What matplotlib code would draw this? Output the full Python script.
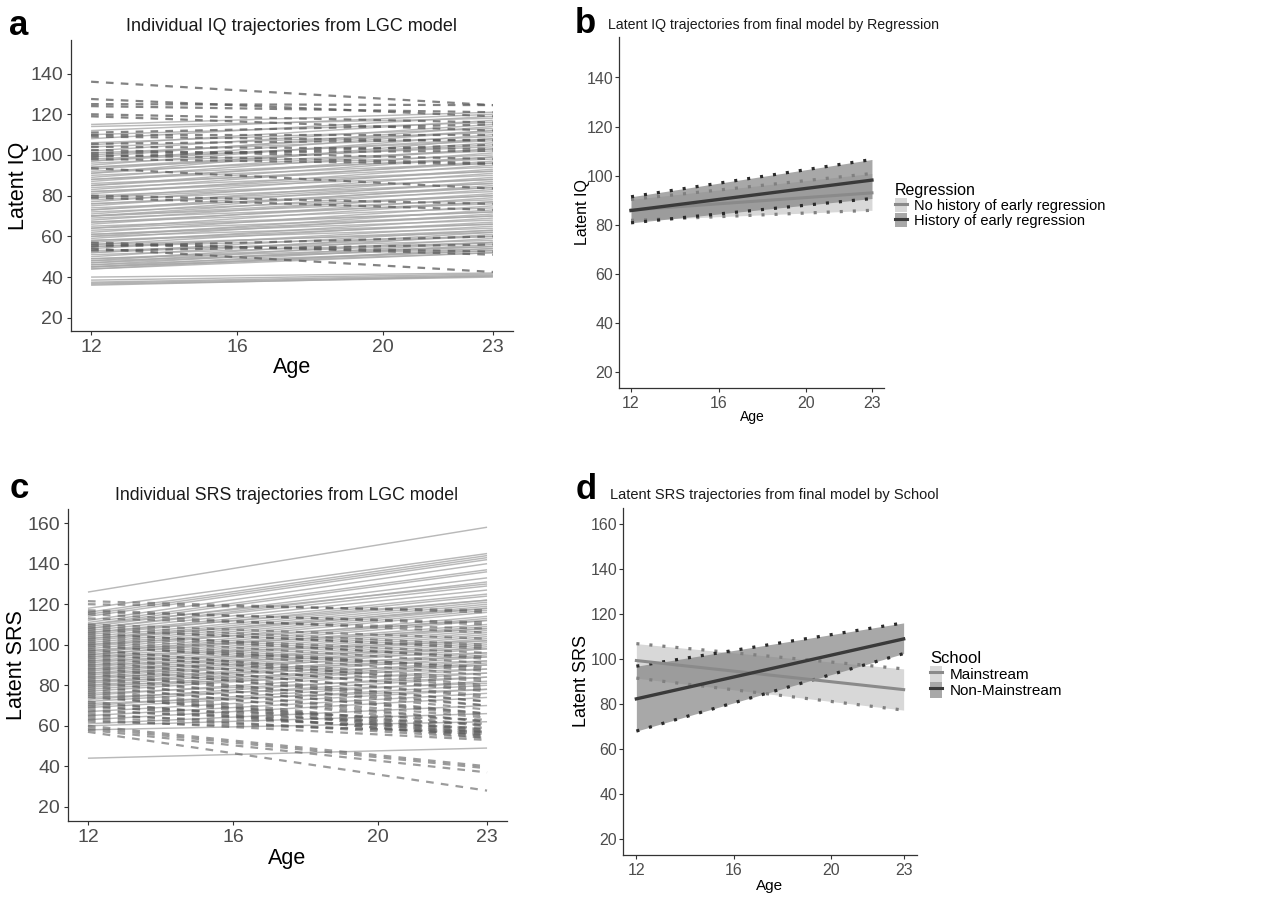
import matplotlib
matplotlib.use('Agg')
import matplotlib.pyplot as plt
from matplotlib.patches import Patch
from matplotlib.lines import Line2D

plt.rcParams['font.family'] = ['Liberation Sans', 'DejaVu Sans']
plt.rcParams['lines.scale_dashes'] = False

W, H = 1283, 897
ages = [12, 23]
age_ticks = [12, 16, 20, 23]

# panel a: individual IQ trajectories (value at 12, value at 23)
iq_solid_start = [115, 114, 112, 110, 108, 106, 105, 104, 102, 101, 100, 99, 98, 97, 97, 96, 95, 94,
                  94, 93, 92, 91, 91, 90, 89, 88, 88, 87, 86, 85, 85, 84, 83, 82, 82, 81, 80, 79,
                  79, 78, 77, 76, 76, 75, 74, 73, 73, 72, 71, 70, 70, 70, 69, 68, 67, 67, 66, 65,
                  64, 64, 63, 62, 61, 61, 60, 60, 59, 58, 58, 57, 56, 56, 55, 55, 54, 53, 52, 52,
                  51, 50, 49, 49, 48, 48, 47, 47, 46, 46, 45, 45, 45, 44, 44, 40, 38.5, 37.5, 37,
                  36.5, 36]
iq_solid_end = [121, 118, 120, 116, 119, 113, 117, 111, 115, 109, 112, 114, 107, 112, 108, 104, 110,
                102, 105, 106, 100, 108, 103, 98, 103, 96, 99, 101, 94, 99, 96, 92, 97, 90, 92, 95,
                88, 93, 88, 86, 91, 84, 86, 89, 82, 87, 84, 80, 85, 78, 83, 80, 76, 81, 74, 77, 79,
                72, 77, 72, 70, 75, 68, 70, 73, 66, 71, 64, 66, 69, 62, 67, 60, 63, 65, 58, 63, 60,
                57, 62, 55, 57, 61, 54, 59, 55, 53, 57, 52, 56, 53, 54, 52, 42, 41.5, 41, 40.5, 40,
                40.5]
iq_dash_start = [136, 127.5, 125, 124, 120, 119, 111, 110, 109, 105.5, 104, 102.5, 101, 100, 99, 98,
                 93.5, 80, 79, 57, 56, 55, 54, 53]
iq_dash_end = [124.5, 119, 124.5, 121, 116, 112, 115, 110, 107, 107.5, 103, 98, 102, 96, 105, 95.5,
               83.5, 76, 73, 51, 52.5, 60, 42.5, 56]

# panel b: latent IQ by regression history (mean, lower, upper)
noreg_mean = [86.0, 93.0]
noreg_lo = [81.8, 85.9]
noreg_hi = [90.3, 100.9]
reg_mean = [85.8, 98.2]
reg_lo = [80.8, 90.7]
reg_hi = [91.4, 106.6]
reg_labels = ['No history of early regression', 'History of early regression']

# panel c: individual SRS trajectories
srs_solid_start = [126, 118, 116, 115, 114, 112, 111, 110, 110, 109, 108, 108, 107, 106, 106, 105,
                   104, 103, 103, 102, 101, 100, 100, 99, 98, 97, 97, 96, 95, 95, 94, 94, 93, 92,
                   92, 91, 90, 90, 89, 88, 88, 87, 86, 86, 85, 84, 84, 83, 82, 82, 81, 80, 80, 79,
                   78, 77, 76, 75, 74, 73, 72, 71, 70, 69, 67, 65, 63, 61, 60, 58, 44]
srs_solid_end = [158, 145, 144, 143, 142, 140, 137, 136, 130, 133, 131, 129, 127, 125, 122, 124,
                 122, 121, 118, 120, 119, 118, 112, 117, 116, 114, 108, 113, 112, 110, 109, 102,
                 108, 107, 98, 106, 105, 96, 104, 103, 94, 102, 101, 92, 100, 99, 90, 98, 96, 88,
                 95, 94, 86, 92, 91, 90, 84, 88, 81, 86, 84, 78, 82, 80, 78, 76, 74, 70, 66, 62,
                 49]
srs_dash_start = [121.5, 120, 117, 116, 115, 113, 110, 109, 108, 107, 106, 105, 104, 103, 102, 101,
                  100, 99, 98, 97, 96, 95, 94, 93, 92, 91, 90, 89, 88, 87, 86, 85, 84, 83, 82, 81,
                  80, 79, 78, 77, 76, 75, 74, 72, 71, 70, 69, 68, 67, 66, 65, 64, 63, 62, 60, 59,
                  58, 57]
srs_dash_end = [116, 117, 110, 111, 106, 108, 103, 100, 98, 99, 93, 96, 94, 91, 88, 87, 85, 89, 80,
                83, 79, 82, 77, 78, 74, 75, 72, 70, 72, 68, 66, 70, 65, 66, 62, 64, 60, 62, 58, 57,
                56, 55, 60, 54, 58, 55, 63, 57, 61, 54, 59, 56, 53, 57, 40, 39, 37, 28]

# panel d: latent SRS by school
main_mean = [99.3, 86.4]
main_lo = [91.5, 77.3]
main_hi = [106.8, 95.6]
nonmain_mean = [82.3, 108.9]
nonmain_lo = [68.0, 102.4]
nonmain_hi = [96.8, 116.0]
school_labels = ['Mainstream', 'Non-Mainstream']

LIGHT_FILL, DARK_FILL, DARK_ALPHA = '#d8d8d8', '#818181', 0.69
LIGHT_LINE, DARK_LINE = '#8a8a8a', '#3a3a3a'
LIGHT_DOT, DARK_DOT = '#808080', '#2a2a2a'


def fx(px):
    return px / W


def fy(py):
    return 1 - py / H


fig = plt.figure(figsize=(W / 100, H / 100), dpi=100)


def axes_px(l, t, r, b):
    return fig.add_axes([fx(l), fy(b), (r - l) / W, (b - t) / H])


def style(ax, ylim, yticks, size, xpad, ypad):
    ax.set_xlim(11.45, 23.55)
    ax.set_ylim(*ylim)
    ax.set_xticks(age_ticks)
    ax.set_yticks(yticks)
    for s in ['top', 'right']:
        ax.spines[s].set_visible(False)
    for s in ['left', 'bottom']:
        ax.spines[s].set_color('#333333')
        ax.spines[s].set_linewidth(0.9)
    ax.tick_params(colors='#333333', length=2.6, width=0.8, labelcolor='#4d4d4d',
                   labelsize=size)
    ax.tick_params(axis='x', pad=xpad)
    ax.tick_params(axis='y', pad=ypad)


def spaghetti(ax, s_start, s_end, d_start, d_end, d_alpha):
    for a, b in zip(s_start, s_end):
        ax.plot(ages, [a, b], color='#a8a8a8', lw=1.05, alpha=0.8, solid_capstyle='butt')
    for a, b in zip(d_start, d_end):
        ax.plot(ages, [a, b], color='#5a5a5a', lw=1.6, alpha=d_alpha,
                linestyle=(0, (5.5, 5.2)), dash_capstyle='butt')


def ribbon(ax, lo, hi, fill, alpha, dot):
    ax.fill_between(ages, lo, hi, color=fill, alpha=alpha, lw=0)
    for edge in (lo, hi):
        ax.plot(ages, edge, color=dot, lw=2.3, linestyle=(0, (2.2, 7.2)), dash_capstyle='butt')


def legend(ax, labels, title, x, y, hh, size, tsize):
    handles = [(Patch(facecolor=LIGHT_FILL, edgecolor='none'), Line2D([], [], color=LIGHT_LINE, lw=2.2)),
               (Patch(facecolor=DARK_FILL, alpha=DARK_ALPHA, edgecolor='none'),
                Line2D([], [], color=DARK_LINE, lw=2.2))]
    ax.legend(handles, labels, title=title, loc='upper left', bbox_to_anchor=(fx(x), fy(y)),
              bbox_transform=fig.transFigure, frameon=False, borderpad=0, borderaxespad=0,
              labelspacing=0, handlelength=0.8, handleheight=hh, handletextpad=0.5,
              alignment='left', prop={'size': size}, title_fontproperties={'size': tsize})


# ---- a
ax_a = axes_px(71, 40, 513, 331)
spaghetti(ax_a, iq_solid_start, iq_solid_end, iq_dash_start, iq_dash_end, 0.75)
style(ax_a, (13.5, 156.5), range(20, 141, 20), 14, 3.5, 3)
fig.text(fx(292), fy(31), 'Individual IQ trajectories from LGC model', ha='center', va='baseline',
         fontsize=13, color='#1a1a1a')
fig.text(fx(19), fy(186), 'Latent IQ', rotation=90, ha='center', va='center', fontsize=15.5)
fig.text(fx(292), fy(368), 'Age', ha='center', va='center', fontsize=15.5)
fig.text(fx(9), fy(35), 'a', fontsize=25, fontweight='bold', va='baseline')

# ---- b
ax_b = axes_px(619, 37, 884, 388)
ribbon(ax_b, noreg_lo, noreg_hi, LIGHT_FILL, 1.0, LIGHT_DOT)
ribbon(ax_b, reg_lo, reg_hi, DARK_FILL, DARK_ALPHA, DARK_DOT)
ax_b.plot(ages, noreg_mean, color=LIGHT_LINE, lw=2.2)
ax_b.plot(ages, reg_mean, color=DARK_LINE, lw=2.4)
style(ax_b, (13.5, 156.5), range(20, 141, 20), 11.5, 3, 1.5)
fig.text(fx(608), fy(29), 'Latent IQ trajectories from final model by Regression', ha='left',
         va='baseline', fontsize=10.2, color='#1a1a1a')
fig.text(fx(583), fy(212), 'Latent IQ', rotation=90, ha='center', va='center', fontsize=11.5)
fig.text(fx(752), fy(417), 'Age', ha='center', va='center', fontsize=10)
fig.text(fx(575), fy(33), 'b', fontsize=25, fontweight='bold', va='baseline')
legend(ax_b, reg_labels, 'Regression', 895, 183, 1.1, 10.5, 11.5)

# ---- c
ax_c = axes_px(68, 509, 507, 821)
spaghetti(ax_c, srs_solid_start, srs_solid_end, srs_dash_start, srs_dash_end, 0.6)
style(ax_c, (13, 167), range(20, 161, 20), 14, 3.5, 3)
fig.text(fx(287), fy(500), 'Individual SRS trajectories from LGC model', ha='center',
         va='baseline', fontsize=12.8, color='#1a1a1a')
fig.text(fx(17), fy(665), 'Latent SRS', rotation=90, ha='center', va='center', fontsize=15.5)
fig.text(fx(287), fy(858), 'Age', ha='center', va='center', fontsize=15.5)
fig.text(fx(10), fy(498), 'c', fontsize=25, fontweight='bold', va='baseline')

# ---- d
ax_d = axes_px(623, 508, 917, 855)
ribbon(ax_d, main_lo, main_hi, LIGHT_FILL, 1.0, LIGHT_DOT)
ribbon(ax_d, nonmain_lo, nonmain_hi, DARK_FILL, DARK_ALPHA, DARK_DOT)
ax_d.plot(ages, main_mean, color=LIGHT_LINE, lw=2.2)
ax_d.plot(ages, nonmain_mean, color=DARK_LINE, lw=2.4)
style(ax_d, (13, 167), range(20, 161, 20), 11.5, 3, 1.5)
fig.text(fx(610), fy(499), 'Latent SRS trajectories from final model by School', ha='left',
         va='baseline', fontsize=10.5, color='#1a1a1a')
fig.text(fx(582), fy(681), 'Latent SRS', rotation=90, ha='center', va='center', fontsize=13)
fig.text(fx(770), fy(886), 'Age', ha='center', va='center', fontsize=11)
fig.text(fx(576), fy(499), 'd', fontsize=25, fontweight='bold', va='baseline')
legend(ax_d, school_labels, 'School', 930, 651, 1.2, 11, 12)

fig.savefig('out.png', dpi=100)
